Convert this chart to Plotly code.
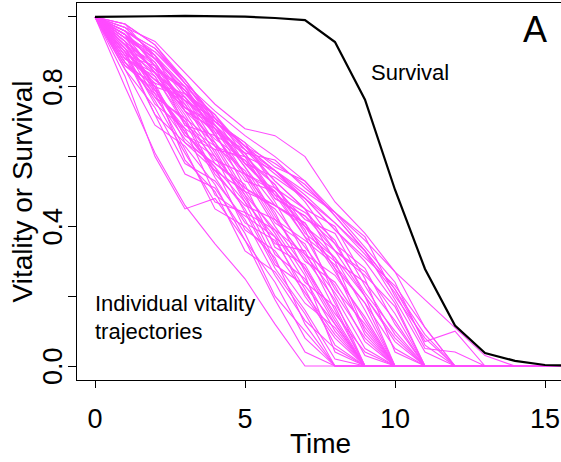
import plotly.graph_objects as go

# ---------------- data ----------------
time_points = list(range(0, 17))

survival = [1.0, 1.0, 1.002, 1.003, 1.003, 1.001, 0.997, 0.991, 0.928, 0.763,
            0.505, 0.278, 0.116, 0.037, 0.015, 0.003, 0.001]

# individual vitality trajectories (values at t = 0, 1, 2, ... until reaching 0)
traj_a = [
    [1, .80, .61, .46, .35, .25, .12, 0],
    [1, .83, .60, .45, .48, .36, .24, .08, 0],
    [1, .90, .72, .55, .51, .38, .20, .10, 0],
    [1, .87, .78, .62, .45, .40, .31, .12, 0],
    [1, .93, .80, .59, .50, .33, .27, .15, 0],
    [1, .85, .69, .63, .52, .36, .19, .04, 0],
    [1, .88, .83, .70, .54, .41, .36, .22, .06, 0],
    [1, .95, .79, .66, .62, .47, .30, .18, .11, 0],
    [1, .90, .75, .68, .49, .43, .37, .20, .08, 0],
    [1, .86, .81, .64, .58, .52, .34, .29, .14, 0],
    [1, .92, .85, .73, .60, .44, .39, .26, .04, 0],
    [1, .89, .72, .64, .56, .50, .38, .24, .17, 0],
    [1, .94, .84, .76, .63, .49, .32, .25, .10, 0],
    [1, .91, .77, .71, .55, .46, .42, .31, .19, 0],
    [1, .87, .80, .67, .57, .39, .33, .21, .09, 0],
    [1, .96, .86, .69, .66, .54, .40, .28, .13, 0],
    [1, .90, .82, .75, .61, .48, .35, .33, .16, 0],
    [1, .93, .78, .70, .59, .55, .44, .27, .12, 0],
]
traj_b = [
    [1, .88, .84, .72, .58, .51, .45, .34, .23, .07, 0],
    [1, .95, .87, .74, .69, .57, .43, .30, .24, .11, 0],
    [1, .91, .80, .77, .64, .53, .50, .39, .20, .05, 0],
    [1, .86, .79, .68, .62, .60, .47, .32, .26, .14, 0],
    [1, .94, .88, .79, .67, .51, .46, .41, .28, .09, 0],
    [1, .92, .83, .69, .63, .56, .42, .36, .29, .18, 0],
    [1, .89, .86, .76, .71, .58, .49, .37, .22, .12, 0],
    [1, .97, .89, .73, .65, .59, .52, .38, .31, .16, 0],
    [1, .90, .81, .78, .68, .55, .41, .35, .18, .03, 0],
    [1, .93, .85, .80, .66, .61, .48, .43, .33, .20, 0],
    [1, .95, .84, .71, .64, .50, .46, .40, .27, .13, 0],
    [1, .88, .82, .74, .70, .63, .53, .45, .30, .10, 0],
    [1, .85, .74, .58, .53, .42, .26, .13, .05, 0],
    [1, .89, .76, .61, .47, .44, .28, .16, .02, 0],
    [1, .91, .79, .67, .56, .45, .29, .23, .12, 0],
    [1, .87, .77, .65, .57, .47, .37, .28, .15, .04, 0],
    [1, .92, .80, .66, .60, .49, .39, .32, .21, .08, 0],
]
traj_c = [
    [1, .94, .88, .79, .69, .58, .50, .40, .31, .20, .07, 0],
    [1, .91, .84, .73, .68, .57, .46, .41, .28, .18, .05, 0],
    [1, .96, .86, .79, .66, .55, .50, .37, .30, .24, .13, 0],
    [1, .92, .87, .75, .63, .59, .48, .43, .35, .21, .10, 0],
    [1, .90, .82, .76, .69, .60, .52, .40, .33, .26, .17, 0],
    [1, .97, .89, .80, .68, .61, .49, .44, .36, .20, .08, 0],
    [1, .93, .86, .74, .67, .62, .53, .45, .33, .27, .15, 0],
    [1, .95, .84, .77, .66, .55, .51, .42, .38, .23, .09, 0],
    [1, .94, .90, .81, .70, .63, .56, .47, .35, .28, .12, 0],
    [1, .98, .88, .77, .68, .58, .54, .48, .39, .30, .18, 0],
    [1, .92, .85, .79, .70, .64, .51, .45, .40, .25, .04, 0],
]
traj_d = [
    [1, .97, .93, .84, .75, .68, .66, .60, .47, .38, .27, .11, 0],
    [1, .96, .91, .82, .71, .63, .58, .52, .43, .33, .22, .09, 0],
    [1, .95, .88, .80, .72, .60, .56, .50, .44, .34, .24, .06, 0],
    [1, .98, .92, .81, .69, .61, .59, .51, .44, .37, .20, .08, 0],
    [1, .94, .89, .78, .72, .62, .55, .48, .39, .31, .23, .11, 0],
    [1, .96, .90, .82, .70, .64, .57, .53, .43, .33, .19, .04, 0],
    [1, .95, .89, .78, .70, .62, .56, .49, .41, .33, .22, .07, .10, 0],
    [1, .96, .91, .81, .73, .66, .60, .53, .44, .36, .27, .19, .11, .03, 0],
    [1, .98, .92, .82, .71, .63, .56, .48, .41, .32, .21, .05, .04, 0],
]

trajectories = traj_a + traj_b + traj_c + traj_d

x_tick_vals = [0, 5, 10, 15]
x_tick_text = ["0", "5", "10", "15"]
y_tick_vals = [0, 0.2, 0.4, 0.6, 0.8, 1.0]
y_label_vals = [0, 0.4, 0.8]
y_label_text = ["0.0", "0.4", "0.8"]

# ---------------- figure ----------------
FONT = "Liberation Sans, Arial, Helvetica, sans-serif"
MAGENTA = "#FF4CFF"

fig = go.Figure()
for tr in trajectories:
    vals = tr + [0] * (len(time_points) - len(tr))
    fig.add_trace(go.Scatter(x=time_points, y=vals, mode="lines",
                             line=dict(color=MAGENTA, width=1.1),
                             showlegend=False, hoverinfo="skip"))

fig.add_trace(go.Scatter(x=time_points, y=survival, mode="lines",
                         line=dict(color="black", width=2.2),
                         showlegend=False, hoverinfo="skip"))

W, H = 561, 462
ml, mr, mt, mb = 77, 0, 3, 82
pw = W - ml - mr
ph = H - mt - mb

annotations = [
    dict(text="Time", xref="paper", yref="paper", x=(320 - ml) / pw, y=-(443 - (H - mb)) / ph,
         showarrow=False, xanchor="center", yanchor="middle", font=dict(size=28, family=FONT)),
    dict(text="Vitality or Survival", xref="paper", yref="paper", x=-(ml - 22) / pw, y=0.5,
         textangle=-90, showarrow=False, xanchor="center", yanchor="middle",
         font=dict(size=28, family=FONT)),
    dict(text="A", x=14.67, y=0.964, xref="x", yref="y", showarrow=False,
         xanchor="center", yanchor="middle", font=dict(size=36, family=FONT)),
    dict(text="Survival", x=9.13, y=0.84, xref="x", yref="y", showarrow=False,
         xanchor="left", yanchor="middle", font=dict(size=22, family=FONT)),
    dict(text="Individual vitality", x=0, y=0.18, xref="x", yref="y", showarrow=False,
         xanchor="left", yanchor="middle", font=dict(size=22, family=FONT), xshift=-2),
    dict(text="trajectories", x=0, y=0.10, xref="x", yref="y", showarrow=False,
         xanchor="left", yanchor="middle", font=dict(size=22, family=FONT), xshift=-2),
]
for v, t in zip(y_label_vals, y_label_text):
    annotations.append(dict(text=t, x=-(ml - 53) / pw, y=v, xref="paper", yref="y",
                            textangle=-90, showarrow=False, xanchor="center", yanchor="middle",
                            font=dict(size=27, family=FONT)))

fig.update_layout(
    width=W, height=H,
    margin=dict(l=ml, r=mr, t=mt, b=mb, autoexpand=False),
    paper_bgcolor="white", plot_bgcolor="white",
    font=dict(family=FONT, color="black"),
    hovermode=False,
    xaxis=dict(range=[-0.6, -0.6 + pw / 30.0], tickvals=x_tick_vals, ticktext=x_tick_text,
               showgrid=False, zeroline=False, showline=True, linecolor="black",
               linewidth=1, mirror=True, ticks="outside", ticklen=7, tickcolor="black",
               tickfont=dict(size=27, family=FONT), ticklabelstandoff=8, automargin=False),
    yaxis=dict(range=[-0.04, 1.04], tickvals=y_tick_vals, showticklabels=False,
               showgrid=False, zeroline=False, showline=True, linecolor="black",
               linewidth=1, ticks="outside", ticklen=8, tickcolor="black",
               automargin=False),
    annotations=annotations,
)

fig.write_html("out.html", config={"displayModeBar": False, "staticPlot": True},
               post_script="document.body.style.margin='0';document.body.style.padding='0';")
